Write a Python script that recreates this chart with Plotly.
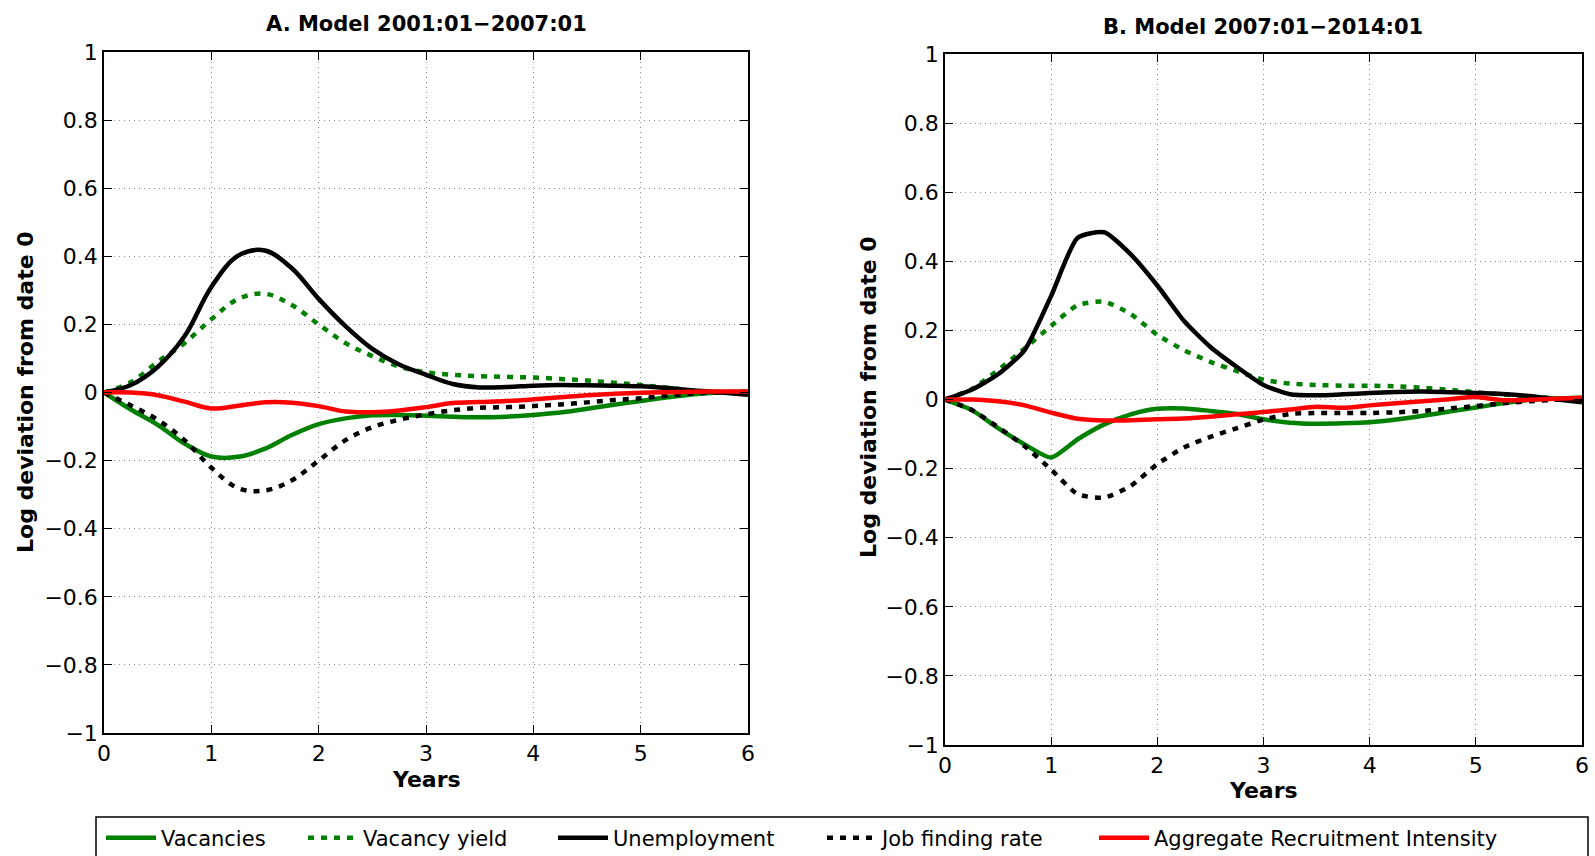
import plotly.graph_objects as go

# ---------------- data ----------------
years = [0, 0.25, 0.5, 0.75, 1.0, 1.25, 1.5, 1.75, 2.0, 2.25, 2.5, 2.75, 3.0,
         3.25, 3.5, 3.75, 4.0, 4.25, 4.5, 4.75, 5.0, 5.25, 5.5, 5.75, 6.0]

# Panel A: Model 2001:01-2007:01
a_vacancies = [0, -0.05, -0.095, -0.15, -0.188, -0.189, -0.165, -0.125, -0.093, -0.076, -0.067, -0.066, -0.068,
               -0.071, -0.073, -0.071, -0.066, -0.059, -0.048, -0.036, -0.025, -0.014, -0.005, 0.0, 0.002]
a_vac_yield = [0, 0.03, 0.09, 0.145, 0.215, 0.275, 0.29, 0.257, 0.2, 0.145, 0.107, 0.076, 0.059,
               0.052, 0.048, 0.046, 0.044, 0.04, 0.035, 0.029, 0.022, 0.014, 0.006, 0.002, 0.0]
a_unemp = [0, 0.022, 0.075, 0.165, 0.31, 0.402, 0.417, 0.365, 0.275, 0.195, 0.128, 0.082, 0.052,
           0.025, 0.015, 0.016, 0.020, 0.022, 0.021, 0.020, 0.018, 0.013, 0.006, 0.0, -0.007]
a_jobfind = [0, -0.038, -0.08, -0.14, -0.221, -0.281, -0.288, -0.258, -0.2, -0.14, -0.102, -0.08, -0.064,
             -0.052, -0.045, -0.043, -0.04, -0.035, -0.029, -0.022, -0.017, -0.009, -0.003, 0.001, 0.002]
a_ari = [0, 0.0, -0.008, -0.027, -0.047, -0.039, -0.029, -0.03, -0.04, -0.056, -0.058, -0.053, -0.043,
         -0.031, -0.028, -0.025, -0.02, -0.014, -0.008, -0.004, -0.001, 0.001, 0.002, 0.003, 0.003]

# Panel B: Model 2007:01-2014:01
b_vacancies = [0, -0.03, -0.083, -0.13, -0.168, -0.115, -0.072, -0.043, -0.027, -0.026, -0.033, -0.042, -0.057,
               -0.067, -0.07, -0.069, -0.066, -0.058, -0.047, -0.035, -0.023, -0.011, -0.001, 0.003, 0.005]
b_vac_yield = [0, 0.03, 0.085, 0.148, 0.213, 0.273, 0.283, 0.247, 0.187, 0.143, 0.109, 0.082, 0.057,
               0.046, 0.042, 0.04, 0.04, 0.038, 0.034, 0.028, 0.021, 0.015, 0.009, 0.004, 0.0]
b_unemp = [0, 0.028, 0.073, 0.143, 0.30, 0.468, 0.484, 0.42, 0.33, 0.228, 0.152, 0.094, 0.042,
           0.015, 0.012, 0.015, 0.019, 0.022, 0.023, 0.021, 0.019, 0.016, 0.01, 0.001, -0.008]
b_jobfind = [0, -0.03, -0.08, -0.135, -0.203, -0.274, -0.284, -0.25, -0.187, -0.139, -0.108, -0.083, -0.058,
             -0.042, -0.039, -0.039, -0.039, -0.037, -0.033, -0.026, -0.019, -0.011, -0.005, -0.001, 0.0]
b_ari = [0, 0.0, -0.005, -0.017, -0.038, -0.056, -0.061, -0.06, -0.057, -0.055, -0.05, -0.043, -0.036,
         -0.029, -0.021, -0.024, -0.017, -0.011, -0.005, 0.001, 0.007, -0.002, -0.001, 0.002, 0.005]

series_names = ["Vacancies", "Vacancy yield", "Unemployment", "Job finding rate",
                "Aggregate Recruitment Intensity"]
panel_titles = ["A. Model 2001:01\u22122007:01", "B. Model 2007:01\u22122014:01"]
x_ticks = [0, 1, 2, 3, 4, 5, 6]
y_ticks = [-1, -0.8, -0.6, -0.4, -0.2, 0, 0.2, 0.4, 0.6, 0.8, 1]
y_tick_text = ["\u22121", "\u22120.8", "\u22120.6", "\u22120.4", "\u22120.2", "0",
               "0.2", "0.4", "0.6", "0.8", "1"]

# ---------------- styling ----------------
W, H = 1595, 856
GREEN = "rgb(0,128,0)"
RED = "rgb(255,0,0)"
BLACK = "rgb(0,0,0)"
DOT = "6px,7px"
LW = 4.5
FONT = "DejaVu Sans"

styles = [
    dict(color=GREEN, dash="solid"),
    dict(color=GREEN, dash=DOT),
    dict(color=BLACK, dash="solid"),
    dict(color=BLACK, dash=DOT),
    dict(color=RED, dash="solid"),
]


def px(x):
    return x / W


def py(y):
    return 1 - y / H


fig = go.Figure()

panels = [
    ("x", "y", [a_vacancies, a_vac_yield, a_unemp, a_jobfind, a_ari], 1.0),
    ("x2", "y2", [b_vacancies, b_vac_yield, b_unemp, b_jobfind, b_ari], 0.6),
]
legend_ids = ["legend", "legend2", "legend3", "legend4", "legend5"]

for pi, (xa, ya, data, sm) in enumerate(panels):
    for si, vals in enumerate(data):
        st = styles[si]
        fig.add_trace(go.Scatter(
            x=years, y=vals, xaxis=xa, yaxis=ya, mode="lines",
            name=series_names[si],
            line=dict(color=st["color"], dash=st["dash"], width=LW, shape="spline", smoothing=sm),
            showlegend=(pi == 0), legend=legend_ids[si],
        ))

axis_common = dict(
    showline=True, linecolor="black", linewidth=1.5, mirror="ticks",
    ticks="inside", ticklen=8, tickwidth=1.3, tickcolor="black",
    showgrid=True, gridcolor="#8c8c8c", griddash="1px,4px", gridwidth=1,
    zeroline=False, automargin=False,
    tickfont=dict(family=FONT, size=22, color="black"),
)

# panel geometry in pixels
A = dict(l=104, r=748, t=52, b=733)
B = dict(l=945, r=1582, t=54, b=745)

for key, g in (("", A), ("2", B)):
    fig.update_layout(**{
        "xaxis" + key: dict(axis_common, domain=[px(g["l"]), px(g["r"])], range=[0, 6],
                            tickvals=x_ticks, anchor="y" + key),
        "yaxis" + key: dict(axis_common, domain=[py(g["b"]), py(g["t"])], range=[-1, 1],
                            tickvals=y_ticks, ticktext=y_tick_text, anchor="x" + key),
    })

annotations = []
# titles
for text, cx, cy in ((panel_titles[0], 426, 24), (panel_titles[1], 1263, 27)):
    annotations.append(dict(text=text, x=px(cx), y=py(cy), xref="paper", yref="paper",
                            showarrow=False, xanchor="center", yanchor="middle",
                            font=dict(family=FONT, size=21, color="black", weight="bold")))
# x labels
for cx, cy in ((426, 779), (1263, 790)):
    annotations.append(dict(text="Years", x=px(cx), y=py(cy), xref="paper", yref="paper",
                            showarrow=False, xanchor="center", yanchor="middle",
                            font=dict(family=FONT, size=22, color="black", weight="bold")))
# y labels
for cx, cy in ((26, 392), (869, 397)):
    annotations.append(dict(text="Log deviation from date 0", x=px(cx), y=py(cy),
                            xref="paper", yref="paper", textangle=-90,
                            showarrow=False, xanchor="center", yanchor="middle",
                            font=dict(family=FONT, size=22, color="black", weight="bold")))

# legends, one per item so positions follow the reference
leg_x = [109, 311, 561, 830, 1102]
legend_layout = {}
for lid, lx in zip(legend_ids, leg_x):
    legend_layout[lid] = dict(
        x=px(lx - 8), y=py(838), xanchor="left", yanchor="middle",
        xref="container", yref="container",
        orientation="h", bgcolor="rgba(0,0,0,0)", borderwidth=0,
        font=dict(family=FONT, size=21, color="black"),
        itemwidth=50, tracegroupgap=0,
    )

fig.update_layout(
    width=W, height=H,
    margin=dict(l=0, r=0, t=0, b=0, autoexpand=False),
    paper_bgcolor="white", plot_bgcolor="white",
    annotations=annotations,
    shapes=[dict(type="rect", xref="paper", yref="paper",
                 x0=px(96), x1=px(1588), y0=py(870), y1=py(817),
                 line=dict(color="black", width=1.5), fillcolor="rgba(0,0,0,0)")],
    **legend_layout,
)

fig.write_html("out.html")
